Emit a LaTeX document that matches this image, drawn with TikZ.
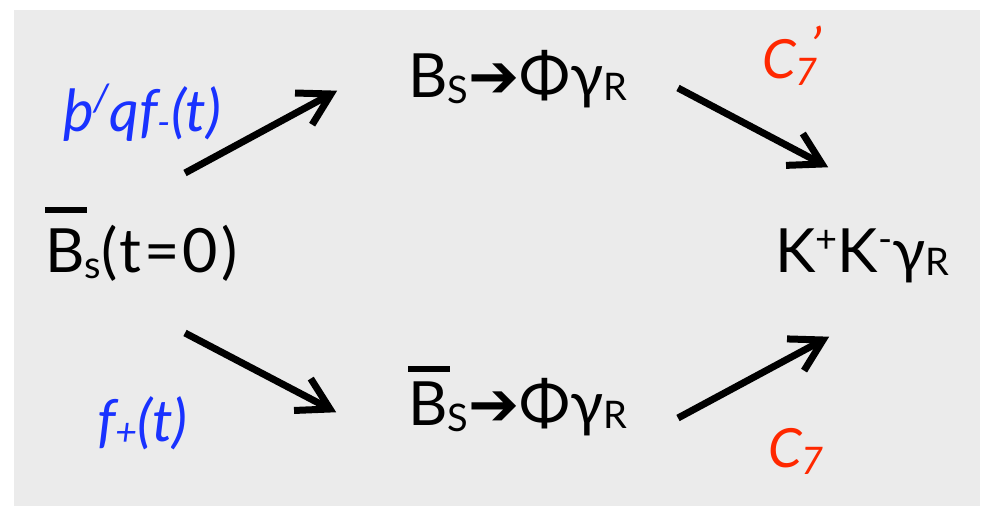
\documentclass[tikz,border=0pt]{standalone}
\usepackage{fontspec}
\setmainfont{Lato}
\newfontfamily\symfont{DejaVu Sans}
\usetikzlibrary{calc}
\definecolor{bg}{RGB}{235,235,235}
\definecolor{myblue}{RGB}{25,50,255}
\definecolor{myred}{RGB}{255,40,0}
\newcommand\bigtxt{\fontsize{61}{70}\selectfont}
\newcommand\subtxt{\fontsize{38}{42}\selectfont}
\newcommand\sbs[2]{\raisebox{-#1pt}{\subtxt #2}}
\newcommand\barB[1]{\rlap{\rule[#1pt]{42pt}{6pt}}B}
\newcommand\myarrow[2]{%
  \draw[arrline] (#1) -- (#2);
  \draw[arrline,line join=miter] ($(#2)!36pt!30:(#1)$) -- (#2) -- ($(#2)!36pt!-30:(#1)$);}
\begin{document}
\begin{tikzpicture}[x=1pt,y=-1pt,
  txt/.style={anchor=base west,inner sep=0pt,font=\bigtxt},
  bluetxt/.style={anchor=base west,inner sep=0pt,text=myblue,font=\fontsize{58}{64}\selectfont\itshape},
  redtxt/.style={anchor=base west,inner sep=0pt,text=myred,font=\fontsize{54}{60}\selectfont\itshape},
  arrline/.style={line width=7pt}]
\useasboundingbox (0,0) rectangle (986,507);
\fill[bg] (14,10) rectangle (980,506);

\node[txt,font=\bigtxt\addfontfeatures{LetterSpace=5}] (b0) at (45,272) {\barB{59}\sbs{6}{s}(t=0)};
\node[txt] (top) at (408,97) {B\sbs{6}{S}{\symfont ➔}Φγ\sbs{3}{R}};
\node[txt] (bot) at (408,425) {\barB{53}\sbs{6}{S}{\symfont ➔}Φγ\sbs{3}{R}};
\node[txt] (kk) at (775,272) {K\raisebox{20pt}{\subtxt +}K\raisebox{20pt}{\subtxt -}γ\sbs{3}{R}};

\node[bluetxt] (pq) at (63,131) {þ\raisebox{20pt}{\subtxt /}qf\sbs{4}{-}(t)};
\node[bluetxt] (fp) at (97,441) {f\sbs{4}{+}(t)};
\node[redtxt] (c7p) at (762,78) {C\sbs{7}{7}\kern-7pt\raisebox{12pt}{’}};
\node[redtxt] (c7) at (768,467) {C\sbs{7}{7}};

\coordinate (a1s) at (185,173); \coordinate (a1e) at (331,94);
\coordinate (a2s) at (185,333); \coordinate (a2e) at (330,409);
\coordinate (a3s) at (678,88);  \coordinate (a3e) at (822,164);
\coordinate (a4s) at (678,418); \coordinate (a4e) at (823,340);
\myarrow{a1s}{a1e}
\myarrow{a2s}{a2e}
\myarrow{a3s}{a3e}
\myarrow{a4s}{a4e}
\end{tikzpicture}
\end{document}
